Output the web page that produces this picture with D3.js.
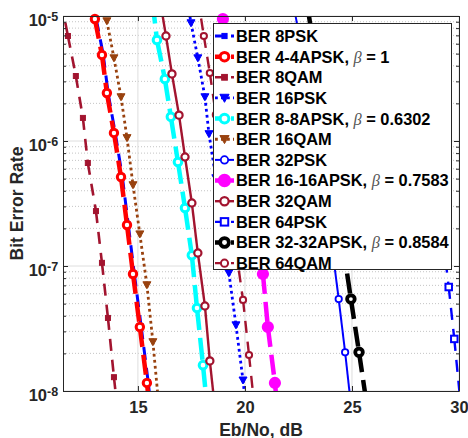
<!DOCTYPE html>
<html><head><meta charset="utf-8">
<script src="https://cdn.jsdelivr.net/npm/d3@7/dist/d3.min.js"></script>
<style>body{margin:0;background:#fff}svg{display:block}</style>
</head><body>
<svg id="c" width="468" height="438"></svg>
<script>
// ---------- DATA (Eb/No in dB, BER) ----------
const ebno_8psk    = [13.05,13.38,13.61,13.94,14.27,14.55,14.83,15.15,15.48,15.81];
const ber_8psk     = [9.5e-6,4.9e-6,2.4e-6,1.16e-6,5.2e-7,2.15e-7,8.7e-8,3.3e-8,1.18e-8,3.6e-9];
const ebno_44apsk  = [12.99,13.32,13.55,13.88,14.21,14.49,14.77,15.09,15.42,15.75];
const ber_44apsk   = [9.46e-6,4.88e-6,2.42e-6,1.16e-6,5.15e-7,2.13e-7,8.63e-8,3.25e-8,1.16e-8,3.5e-9];
const ebno_8qam    = [11.42,11.73,12.10,12.43,12.66,13.04,13.32,13.60,13.88,14.2];
const ber_8qam     = [1.3e-5,6.92e-6,3.31e-6,1.53e-6,6.67e-7,2.75e-7,1.06e-7,3.84e-8,1.29e-8,4e-9];
const ebno_16psk   = [17.2,17.48,17.80,18.13,18.32,18.64,18.97,19.25,19.58,19.91,20.2];
const ber_16psk    = [1.7e-5,8.79e-6,4.61e-6,2.25e-6,1.14e-6,5.06e-7,2.17e-7,8.79e-8,3.37e-8,1.22e-8,4e-9];
const ebno_88apsk  = [15.68,15.89,16.26,16.54,16.87,17.20,17.52,17.76,18.04,18.33];
const ber_88apsk   = [1.3e-5,6.43e-6,3.13e-6,1.56e-6,6.79e-7,2.91e-7,1.22e-7,4.61e-8,1.61e-8,5e-9];
const ebno_16qam   = [13.55,13.88,14.21,14.49,14.77,15.09,15.42,15.70,15.98];
const ber_16qam    = [9.12e-6,4.61e-6,2.25e-6,1.06e-6,4.45e-7,1.80e-7,7.05e-8,2.47e-8,7.5e-9];
const ebno_32psk   = [22.28,22.58,22.88,23.18,23.48,23.78,24.08,24.38,24.68,24.98];
const ber_32psk    = [1.2e-5,6.31e-6,3.24e-6,1.58e-6,7.41e-7,3.31e-7,1.38e-7,5.44e-8,2.04e-8,7e-9];
const ebno_1616apsk= [18.97,19.25,19.58,19.91,20.19,20.51,20.84,21.07,21.40,21.7];
const ber_1616apsk = [9.46e-6,5.13e-6,2.63e-6,1.26e-6,5.75e-7,2.40e-7,8.63e-8,3.25e-8,1.16e-8,3.5e-9];
const ebno_32qam   = [16.03,16.31,16.59,16.92,17.20,17.52,17.80,18.13,18.36,18.65];
const ber_32qam    = [1.35e-5,6.92e-6,3.44e-6,1.61e-6,7.45e-7,3.19e-7,1.27e-7,4.79e-8,1.74e-8,6e-9];
const ebno_64psk   = [27.44,27.70,27.96,28.22,28.48,28.74,29.0,29.26,29.52,29.78,30.04];
const ber_64psk    = [1.26e-5,7.41e-6,4.27e-6,2.40e-6,1.29e-6,6.76e-7,3.47e-7,1.62e-7,6.79e-8,2.61e-8,9.1e-9];
const ebno_3232apsk= [22.73,23.10,23.47,23.84,24.21,24.58,24.95,25.33,25.70];
const ber_3232apsk = [2.0e-5,7.5e-6,2.82e-6,1.05e-6,3.89e-7,1.45e-7,5.44e-8,2.04e-8,7.6e-9];
const ebno_64qam   = [17.8,18.08,18.36,18.64,18.97,19.25,19.58,19.91,20.19,20.48];
const ber_64qam    = [1.4e-5,6.92e-6,3.50e-6,1.62e-6,7.41e-7,3.24e-7,1.35e-7,5.35e-8,1.94e-8,6.5e-9];

const seriesNames = ["BER 8PSK","BER 4-4APSK, ","BER 8QAM","BER 16PSK","BER 8-8APSK, ","BER 16QAM",
  "BER 32PSK","BER 16-16APSK, ","BER 32QAM","BER 64PSK","BER 32-32APSK, ","BER 64QAM"];
const betaValues = [null," = 1",null,null," = 0.6302",null,null," = 0.7583",null,null," = 0.8584",null];
const xTicks = [15,20,25,30];
const yTicks = [1e-8,1e-7,1e-6,1e-5];

// ---------- STYLES ----------
const styles = [
  {c:"#0000FF", w:3,   dash:"13,8", m:"sq",  ms:4.5, fill:"#0000FF", mw:1},
  {c:"#FF0000", w:4.5, dash:"20,8", m:"ci",  r:3.7, fill:"#fff", mw:3},
  {c:"#A2142F", w:2.6, dash:"12,9", m:"sq",  ms:5, fill:"#A2142F", mw:1},
  {c:"#0000FF", w:2.8, dash:"2.8,3.2", m:"tri", ms:8, fill:"#0000FF", mw:1},
  {c:"#00FFFF", w:4.5, dash:"22,8", m:"ci",  r:3.8, fill:"#fff", mw:3},
  {c:"#99420F", w:2.8, dash:"2.8,3.2", m:"tri", ms:8, fill:"#99420F", mw:1},
  {c:"#0000FF", w:2,   dash:null,   m:"ci",  r:3.2, fill:"#fff", mw:1.8},
  {c:"#FF00FF", w:4.5, dash:"20,8", m:"ci",  r:4.3, fill:"#FF00FF", mw:3.6},
  {c:"#A2142F", w:2.4, dash:null,   m:"ci",  r:3.6, fill:"#fff", mw:2.2},
  {c:"#0000FF", w:2.4, dash:"12,9", m:"sqo", ms:6.5, fill:"#fff", mw:2},
  {c:"#000000", w:4.5, dash:"20,8", m:"ci",  r:3.8, fill:"#fff", mw:3.8},
  {c:"#A2142F", w:2.4, dash:"12,9", m:"ci",  r:3.1, fill:"#fff", mw:2}
];
const seriesData = [
  [ebno_8psk,ber_8psk],[ebno_44apsk,ber_44apsk],[ebno_8qam,ber_8qam],[ebno_16psk,ber_16psk],
  [ebno_88apsk,ber_88apsk],[ebno_16qam,ber_16qam],[ebno_32psk,ber_32psk],[ebno_1616apsk,ber_1616apsk],
  [ebno_32qam,ber_32qam],[ebno_64psk,ber_64psk],[ebno_3232apsk,ber_3232apsk],[ebno_64qam,ber_64qam]
];

const L=63, R=459, T=16, B=391;
const x = d3.scaleLinear().domain([11.5,30]).range([L,R]);
const y = d3.scaleLog().domain([1e-8,1e-5]).range([B,T]);
const svg = d3.select("#c");
const FONT = "'Liberation Sans', Arial, Helvetica, sans-serif";
const AX = "#262626";

svg.append("defs").append("clipPath").attr("id","clip")
  .append("rect").attr("x",L).attr("y",T).attr("width",R-L).attr("height",B-T);

// grid
const minor = [];
for (let e=-8;e<-5;e++) for (let k=2;k<=9;k++) minor.push(k*Math.pow(10,e));
const g = svg.append("g");
g.selectAll(".mg").data(minor).enter().append("line")
  .attr("x1",L).attr("x2",R).attr("y1",d=>y(d)).attr("y2",d=>y(d))
  .attr("stroke","#c4c4c4").attr("stroke-width",1).attr("stroke-dasharray","1,2");
g.selectAll(".gy").data(yTicks).enter().append("line")
  .attr("x1",L).attr("x2",R).attr("y1",d=>y(d)).attr("y2",d=>y(d))
  .attr("stroke","#dedede").attr("stroke-width",1);
g.selectAll(".gx").data(xTicks).enter().append("line")
  .attr("x1",d=>x(d)).attr("x2",d=>x(d)).attr("y1",T).attr("y2",B)
  .attr("stroke","#dedede").attr("stroke-width",1);

// series
function marker(sel, s, px, py, scale) {
  scale = scale||1;
  if (s.m==="ci") {
    sel.append("circle").attr("cx",px).attr("cy",py).attr("r",s.r*scale)
      .attr("fill",s.fill).attr("stroke",s.c).attr("stroke-width",s.mw);
  } else if (s.m==="sq" || s.m==="sqo") {
    const h=s.ms*scale/2;
    sel.append("rect").attr("x",px-h).attr("y",py-h).attr("width",2*h).attr("height",2*h)
      .attr("fill",s.fill).attr("stroke",s.c).attr("stroke-width",s.mw);
  } else if (s.m==="tri") {
    const h=s.ms*scale/2;
    sel.append("path").attr("d",`M${px-h},${py-h*0.8}L${px+h},${py-h*0.8}L${px},${py+h*0.95}Z`)
      .attr("fill",s.fill).attr("stroke",s.c).attr("stroke-width",s.mw);
  }
}
const plot = svg.append("g");
seriesData.forEach((d,si)=>{
  const s = styles[si];
  const pts = d[0].map((v,i)=>[x(v), y(d[1][i]), v, d[1][i]]);
  const gl = plot.append("g").attr("clip-path","url(#clip)");
  for (let i=0;i<pts.length-1;i++) {
    const ln = gl.append("line").attr("x1",pts[i][0]).attr("y1",pts[i][1])
      .attr("x2",pts[i+1][0]).attr("y2",pts[i+1][1])
      .attr("stroke",s.c).attr("stroke-width",s.w).attr("stroke-linecap","butt");
    if (s.dash) ln.attr("stroke-dasharray",s.dash);
  }
  const gm = plot.append("g");
  pts.forEach(p=>{
    if (p[2]>=11.5 && p[2]<=30 && p[3]>=0.97e-8 && p[3]<=1.03e-5) marker(gm,s,p[0],p[1]);
  });
});

// axes
const axG = svg.append("g").attr("font-family",FONT);
const xb = axG.append("g").attr("transform",`translate(0,${B})`)
  .call(d3.axisBottom(x).tickValues(xTicks).tickSizeInner(-5).tickSizeOuter(0).tickPadding(9).tickFormat(d3.format("d")));
axG.append("g").attr("transform",`translate(0,${T})`)
  .call(d3.axisTop(x).tickValues(xTicks).tickSizeInner(-5).tickSizeOuter(0).tickFormat(""));
axG.append("g").attr("transform",`translate(${L},0)`)
  .call(d3.axisLeft(y).tickValues(yTicks).tickSizeInner(-5).tickSizeOuter(0).tickFormat(""));
axG.append("g").attr("transform",`translate(${R},0)`)
  .call(d3.axisRight(y).tickValues(yTicks).tickSizeInner(-5).tickSizeOuter(0).tickFormat(""));
axG.append("g").attr("transform",`translate(${L},0)`)
  .call(d3.axisLeft(y).tickValues(minor).tickSizeInner(-3).tickSizeOuter(0).tickFormat(""))
  .select(".domain").remove();
axG.append("g").attr("transform",`translate(${R},0)`)
  .call(d3.axisRight(y).tickValues(minor).tickSizeInner(-3).tickSizeOuter(0).tickFormat(""))
  .select(".domain").remove();
axG.selectAll("path.domain").attr("stroke",AX).attr("stroke-width",1);
axG.selectAll(".tick line").attr("stroke",AX).attr("stroke-width",1);
xb.selectAll(".tick text").attr("font-size",16.5).attr("font-weight","bold").attr("fill",AX)
  .attr("dy",null).attr("y",22);

// y tick labels 10^k
yTicks.forEach(v=>{
  const k = Math.round(Math.log10(v));
  const yy = y(v);
  axG.append("text").attr("x",47).attr("y",yy+10).attr("text-anchor","end")
    .attr("font-size",16.5).attr("font-weight","bold").attr("fill",AX).text("10");
  axG.append("text").attr("x",47).attr("y",yy+4.5).attr("text-anchor","start")
    .attr("font-size",12.5).attr("font-weight","bold").attr("fill",AX).text(String(k));
});

// axis labels
axG.append("text").attr("x",(L+R)/2).attr("y",435.5).attr("text-anchor","middle")
  .attr("font-size",17.5).attr("font-weight","bold").attr("fill",AX).text("Eb/No, dB");
axG.append("text").attr("transform",`translate(22.5,${(T+B)/2}) rotate(-90)`).attr("text-anchor","middle")
  .attr("font-size",17.5).attr("font-weight","bold").attr("fill",AX).text("Bit Error Rate");

// legend
const lg = svg.append("g").attr("font-family",FONT);
const LX0=213, LX1=451, LY0=23, LY1=269, rowH=20.65, row0=36;
lg.append("rect").attr("x",LX0+0.5).attr("y",LY0+0.5).attr("width",LX1-LX0).attr("height",LY1-LY0)
  .attr("fill","#fff").attr("stroke",AX).attr("stroke-width",1);
seriesNames.forEach((nm,i)=>{
  const s = styles[i], cy = row0 + i*rowH;
  const ln = lg.append("line").attr("x1",215).attr("x2",234).attr("y1",cy).attr("y2",cy)
    .attr("stroke",s.c).attr("stroke-width",s.w);
  if (s.dash) ln.attr("stroke-dasharray",s.dash.split(",").map(v=>Math.min(+v,8)).join(","));
  marker(lg,s,224.5,cy,1.15);
  const t = lg.append("text").attr("x",236).attr("y",cy+5.9).attr("font-size",16.4)
    .attr("font-weight","bold").attr("fill","#000");
  t.append("tspan").text(nm);
  if (betaValues[i]) {
    t.append("tspan").attr("font-family","'Liberation Serif','Times New Roman',serif")
      .attr("font-style","italic").attr("font-weight","normal").attr("fill","#555").text("β");
    t.append("tspan").text(betaValues[i]);
  }
});
</script>
</body></html>
